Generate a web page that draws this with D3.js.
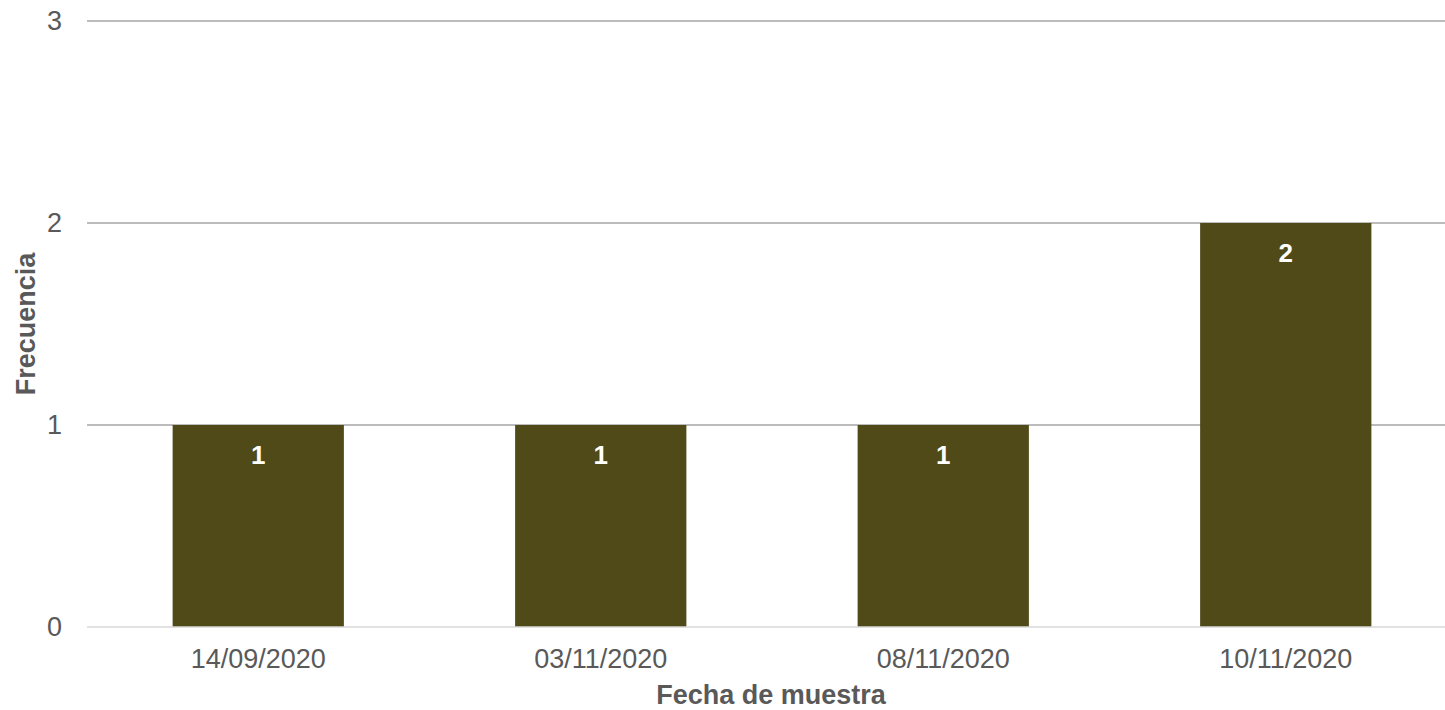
<!DOCTYPE html>
<html>
<head>
<meta charset="utf-8">
<script src="https://cdn.jsdelivr.net/npm/d3@7"></script>
<style>
  body { margin: 0; background: #fff; overflow: hidden; }
  text { font-family: "Liberation Sans", Arial, Helvetica, sans-serif; }
</style>
</head>
<body>
<div id="chart"></div>
<script>
var width = 1445;
var height = 710;

// data
const fechas = ["14/09/2020", "03/11/2020", "08/11/2020", "10/11/2020"];
const frecuencias = [1, 1, 1, 2];
const yTicks = [0, 1, 2, 3];

var margin = { top: 21, left: 87 },
    plotW = 1370,               // plot runs a bit past the right edge of the window
    innerH = 606;

var svg = d3.select("#chart").append("svg")
    .attr("width", width)
    .attr("height", height);

var g = svg.append("g")
    .attr("transform", "translate(" + margin.left + "," + margin.top + ")");

var x = d3.scaleBand()
    .domain(fechas)
    .range([0, plotW])
    .paddingInner(0.5)
    .paddingOuter(0.25);

var y = d3.scaleLinear()
    .domain([0, 3])
    .range([innerH, 0]);

// gridlines
g.selectAll(".grid")
    .data(yTicks.filter(function (d) { return d > 0; }))
    .enter().append("line")
    .attr("class", "grid")
    .attr("x1", 0).attr("x2", width - margin.left)
    .attr("y1", function (d) { return y(d); })
    .attr("y2", function (d) { return y(d); })
    .style("stroke", "#a6a6a6")
    .style("stroke-width", 1.5);

// bars
g.selectAll(".bar")
    .data(frecuencias)
    .enter().append("rect")
    .attr("class", "bar")
    .attr("x", function (d, i) { return x(fechas[i]); })
    .attr("y", function (d) { return y(d); })
    .attr("width", x.bandwidth())
    .attr("height", function (d) { return innerH - y(d); })
    .style("fill", "#4f4a18");

// baseline
g.append("line")
    .attr("x1", 0).attr("x2", width - margin.left)
    .attr("y1", y(0)).attr("y2", y(0))
    .style("stroke", "#d9d9d9")
    .style("stroke-width", 1.5);

// value labels
g.selectAll(".val")
    .data(frecuencias)
    .enter().append("text")
    .attr("class", "val")
    .attr("x", function (d, i) { return x(fechas[i]) + x.bandwidth() / 2; })
    .attr("y", function (d) { return y(d) + 39; })
    .attr("text-anchor", "middle")
    .style("font-size", "26px")
    .style("font-weight", "bold")
    .style("fill", "#ffffff")
    .text(function (d) { return d; });

// y axis
var yAxis = g.append("g")
    .call(d3.axisLeft(y).tickValues(yTicks).tickFormat(d3.format("d")).tickSize(0).tickPadding(25));
yAxis.select(".domain").remove();
yAxis.selectAll("text")
    .style("font-size", "27px")
    .style("fill", "#595959");

// x axis
var xAxis = g.append("g")
    .attr("transform", "translate(0," + innerH + ")")
    .call(d3.axisBottom(x).tickSize(0).tickPadding(22));
xAxis.select(".domain").remove();
xAxis.selectAll("text")
    .style("font-size", "27px")
    .style("fill", "#595959");

// axis titles
svg.append("text")
    .attr("x", 771)
    .attr("y", 704)
    .attr("text-anchor", "middle")
    .style("font-size", "27px")
    .style("font-weight", "bold")
    .style("fill", "#595959")
    .text("Fecha de muestra");

svg.append("text")
    .attr("transform", "translate(35," + (margin.top + innerH / 2) + ") rotate(-90)")
    .attr("text-anchor", "middle")
    .style("font-size", "27px")
    .style("font-weight", "bold")
    .style("fill", "#595959")
    .text("Frecuencia");
</script>
</body>
</html>
